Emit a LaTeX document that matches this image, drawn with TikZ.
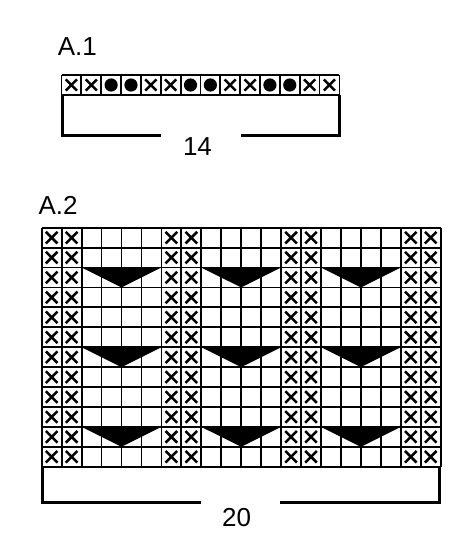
\documentclass[tikz,border=0pt]{standalone}
\usepackage{fontspec}
\setmainfont{Liberation Sans}
\begin{document}
\begin{tikzpicture}[x=1pt,y=-1pt,
  gridline/.style={line width=1.8pt, draw=black},
  xmark/.style={line width=2.5pt, draw=black},
  dotmark/.style={fill=black},
  bracket/.style={line width=3pt, draw=black, line join=miter},
  chartlabel/.style={font=\fontsize{26}{30}\selectfont, inner sep=0pt, anchor=base west},
  countlabel/.style={font=\fontsize{26}{30}\selectfont, inner sep=0pt, anchor=base},
  decrease/.style={fill=black}]
\useasboundingbox (0,0) rectangle (476,550);
% ---------- A.1 ----------
\node[chartlabel] (a1label) at (57.7,55) {A.1};
\def\ax{61.5}\def\ay{75}\def\acw{19.85}\def\ach{20}
\foreach \i in {0,1,4,5,8,9,12,13}{
  \pgfmathsetmacro\cx{\ax+(\i+0.5)*\acw}
  \pgfmathsetmacro\cy{\ay+0.5*\ach}
  \draw[xmark] (\cx-5.6,\cy-5.6) -- (\cx+5.6,\cy+5.6) (\cx-5.6,\cy+5.6) -- (\cx+5.6,\cy-5.6);
}
\foreach \i in {2,3,6,7,10,11}{
  \pgfmathsetmacro\cx{\ax+(\i+0.5)*\acw}
  \pgfmathsetmacro\cy{\ay+0.5*\ach}
  \fill[dotmark] (\cx,\cy) circle (6.6);
}
\foreach \i in {0,...,14}{
  \pgfmathsetmacro\lx{\ax+\i*\acw}
  \draw[gridline] (\lx,\ay) -- (\lx,\ay+\ach);
}
\draw[gridline] (\ax,\ay) -- (\ax+14*\acw,\ay) (\ax,\ay+\ach) -- (\ax+14*\acw,\ay+\ach);
\node[countlabel] (a1count) at (197.5,155) {14};
\coordinate (a1l) at (62.5,95);
\coordinate (a1r) at (339,95);
\draw[bracket] (a1l) -- (62.5,135.7) -- (161,135.7);
\draw[bracket] (241,135.7) -- (339,135.7) -- (a1r);
% ---------- A.2 ----------
\node[chartlabel] (a2label) at (38.3,214) {A.2};
\def\bx{41.7}\def\by{227.7}\def\bcw{19.95}\def\bch{19.92}
\foreach \r in {0,...,11}{
  \foreach \i in {0,1,6,7,12,13,18,19}{
    \pgfmathsetmacro\cx{\bx+(\i+0.5)*\bcw}
    \pgfmathsetmacro\cy{\by+(\r+0.5)*\bch}
    \draw[xmark] (\cx-5.8,\cy-5.8) -- (\cx+5.8,\cy+5.8) (\cx-5.8,\cy+5.8) -- (\cx+5.8,\cy-5.8);
  }
}
\foreach \i in {0,...,20}{
  \pgfmathsetmacro\lx{\bx+\i*\bcw}
  \draw[gridline] (\lx,\by) -- (\lx,\by+12*\bch);
}
\foreach \r in {0,...,12}{
  \pgfmathsetmacro\ly{\by+\r*\bch}
  \draw[gridline] (\bx,\ly) -- (\bx+20*\bcw,\ly);
}
\foreach \r in {2,6,10}{
  \foreach \c in {2,8,14}{
    \pgfmathsetmacro\tx{\bx+\c*\bcw}
    \pgfmathsetmacro\ty{\by+\r*\bch}
    \fill[decrease] (\tx,\ty) -- (\tx+4*\bcw,\ty) -- (\tx+2*\bcw,\ty+\bch) -- cycle;
  }
}
\node[countlabel] (a2count) at (236.7,526.5) {20};
\coordinate (a2l) at (42.7,467);
\coordinate (a2r) at (439.3,467);
\draw[bracket] (a2l) -- (42.7,502.8) -- (201,502.8);
\draw[bracket] (280,502.8) -- (439.3,502.8) -- (a2r);
\end{tikzpicture}
\end{document}
